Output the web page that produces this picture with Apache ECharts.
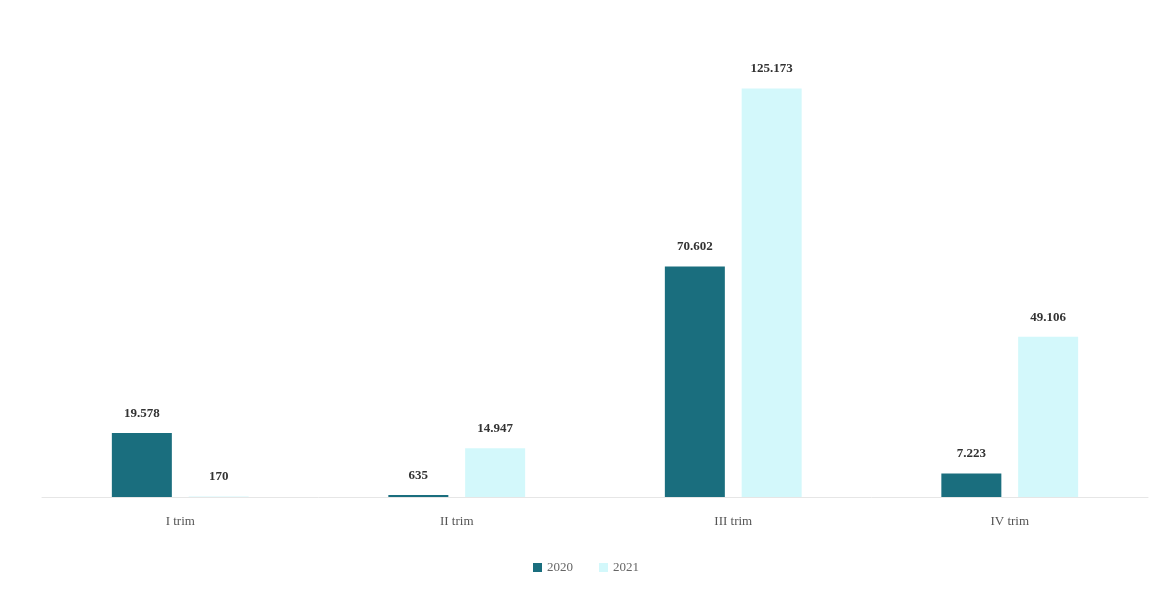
<!DOCTYPE html>
<html>
<head>
<meta charset="utf-8">
<script src="https://cdn.jsdelivr.net/npm/echarts@6/dist/echarts.min.js"></script>
<style>
  html, body { margin: 0; padding: 0; background: #ffffff; }
  #chart { width: 1172px; height: 592px; }
</style>
</head>
<body>
<div id="chart"></div>
<script>
// Quarterly values, 2020 vs 2021
const categories = ['I trim', 'II trim', 'III trim', 'IV trim'];
const seriesNames = ['2020', '2021'];
const values2020 = [19578, 635, 70602, 7223];
const values2021 = [170, 14947, 125173, 49106];

const colors = ['#1a6e7e', '#d3f8fb'];
const serif = '"Liberation Serif", "DejaVu Serif", serif';

// Italian-style thousands separator (19.578)
function fmt(v) {
  return String(v).replace(/\B(?=(\d{3})+(?!\d))/g, '.');
}

const chart = echarts.init(document.getElementById('chart'), null, { renderer: 'canvas' });

function barSeries(name, data, color) {
  return {
    name: name,
    type: 'bar',
    data: data,
    barWidth: 60,
    barGap: '28%',
    itemStyle: { color: color },
    label: {
      show: true,
      position: 'top',
      distance: 13,
      formatter: p => fmt(p.value),
      fontFamily: serif,
      fontWeight: 'bold',
      fontSize: 13,
      color: '#333333'
    }
  };
}

chart.setOption({
  animation: false,
  backgroundColor: '#ffffff',
  grid: { left: 42, right: 24, top: 40, bottom: 95 },
  legend: {
    data: seriesNames,
    bottom: 13,
    left: 'center',
    itemWidth: 9,
    itemHeight: 9,
    itemGap: 26,
    icon: 'rect',
    textStyle: { fontFamily: serif, fontSize: 13, color: '#666666' }
  },
  xAxis: {
    type: 'category',
    data: categories,
    axisLine: { lineStyle: { color: '#e6e6e6' } },
    axisTick: { show: false },
    axisLabel: { fontFamily: serif, fontSize: 13, color: '#555555', margin: 18 }
  },
  yAxis: {
    type: 'value',
    min: 0,
    max: 140000,
    interval: 20000,
    show: false,
    splitLine: { show: false }
  },
  series: [
    barSeries(seriesNames[0], values2020, colors[0]),
    barSeries(seriesNames[1], values2021, colors[1])
  ]
});
</script>
</body>
</html>
